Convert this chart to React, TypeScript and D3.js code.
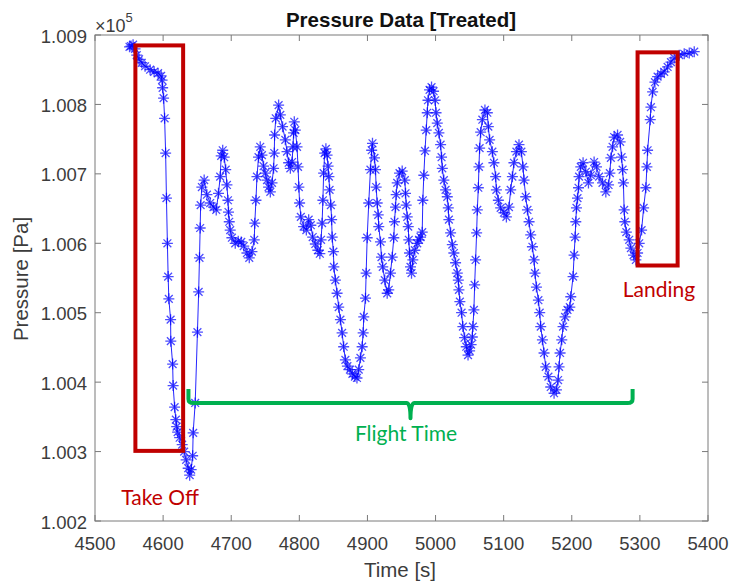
import React from 'react';
import * as d3 from 'd3';

// time [s]
const times = [
  4550.7, 4552.9, 4555.9, 4558.8, 4561.3, 4564.7, 4568.7, 4573.5, 4580.9, 4586.8,
  4592.6, 4597.1, 4598.5, 4599.3, 4600.7, 4602.2, 4603.7, 4604.9, 4606.3, 4607.4,
  4608.4, 4611, 4611.3, 4614, 4614.7, 4616.9, 4618.7, 4619.9, 4621.3, 4624.3,
  4628, 4630.9, 4633.8, 4636.8, 4639, 4641.2, 4643.4, 4644.1, 4647.1, 4650.4,
  4652.2, 4653.4, 4654.4, 4655.1, 4656.9, 4660.3, 4664.3, 4669.1, 4674, 4678,
  4681.3, 4683.8, 4685.3, 4687.5, 4689.7, 4691.9, 4693.7, 4695.2, 4696, 4697.1,
  4698.5, 4701, 4705.9, 4710.3, 4714.7, 4718.4, 4723.1, 4726.5, 4730.4, 4733.8,
  4734.6, 4736.3, 4737.8, 4740.1, 4742.6, 4745.1, 4747.5, 4750, 4752.5, 4754.9,
  4757.4, 4759.9, 4762.2, 4763.2, 4763.7, 4765.4, 4769.6, 4772.1, 4775.4, 4779.4,
  4781.9, 4784.3, 4786.8, 4789.3, 4790.7, 4791.6, 4792.6, 4794.1, 4796.6, 4798.1,
  4799.3, 4800.4, 4802.2, 4806.3, 4810.3, 4813.7, 4816.9, 4819.6, 4823.5, 4827.2,
  4830.1, 4831.9, 4833.4, 4834.6, 4835.7, 4837.2, 4839, 4840.7, 4842.2, 4843.4,
  4844.4, 4846.3, 4847.4, 4848.2, 4850, 4850.7, 4852.9, 4855.4, 4857.8, 4860.3,
  4862.8, 4865.1, 4867.6, 4870.6, 4874.3, 4877.9, 4881.6, 4884.6, 4887.2, 4889.7,
  4892.2, 4893.7, 4894.6, 4897.1, 4898.1, 4899.6, 4901.9, 4904.4, 4906.2, 4907.4,
  4910.3, 4911.8, 4912.8, 4914.3, 4915.8, 4916.6, 4919.1, 4920.6, 4922.5, 4925.4,
  4929, 4931.3, 4933.8, 4936.3, 4938.7, 4939.7, 4941.2, 4942.2, 4943.7, 4947.1,
  4951, 4954.9, 4955.9, 4956.9, 4958.4, 4959.9, 4960.7, 4961.8, 4963.2, 4964.7,
  4966.6, 4969.6, 4973.1, 4975.7, 4978, 4980.4, 4981.3, 4982.8, 4984.5, 4986.3,
  4987.8, 4988.9, 4991.2, 4994.1, 4997.1, 4999.3, 5000.7, 5002.5, 5004.9, 5007.4,
  5008.8, 5009.9, 5012.2, 5014.7, 5017.2, 5018.7, 5019.6, 5022.1, 5024.6, 5026.9,
  5029.4, 5031.9, 5033.4, 5034.3, 5035.7, 5038.2, 5040.1, 5042.6, 5045.1, 5047.7,
  5050, 5052.2, 5053.9, 5054.8, 5056.3, 5057.4, 5058.8, 5060.3, 5061.3, 5062.8,
  5063.7, 5064.7, 5066.2, 5068.7, 5072.5, 5076, 5077.5, 5079.4, 5083.4, 5085.7,
  5088.2, 5089.3, 5092.2, 5095.6, 5100.4, 5104, 5107.8, 5110.3, 5112.8, 5115.1,
  5118.7, 5122.5, 5126, 5128.4, 5129.9, 5132.4, 5134.9, 5137.3, 5139.7, 5142.2,
  5144.6, 5146, 5148.1, 5151, 5152.9, 5154.4, 5156.9, 5159.3, 5161.8, 5165.7,
  5169.1, 5174, 5177.5, 5179.9, 5181.3, 5182.8, 5185.3, 5187.2, 5190.2, 5193.7,
  5197.1, 5198.5, 5201.9, 5203.4, 5204.9, 5205.9, 5206.9, 5208.4, 5209.9, 5210.7,
  5213.2, 5216.6, 5220.6, 5224.5, 5227.9, 5232.8, 5236.3, 5240.1, 5245.1, 5250,
  5254, 5255.9, 5257.4, 5259.9, 5262.2, 5267.2, 5271, 5273.1, 5274.6, 5275.8,
  5276.9, 5277.9, 5280.1, 5284.3, 5286.8, 5290.7, 5294.1, 5296.6, 5299, 5302.5,
  5305.5, 5308.8, 5310.3, 5311.3, 5315.2, 5316.2, 5318.7, 5322.1, 5326, 5330.9,
  5335.7, 5340.7, 5345.6, 5350.4, 5357.8, 5365.1, 5372.5, 5379.8,
];

// pressure [Pa]
const pressures = [
  100883, 100884, 100886, 100880, 100871, 100865, 100860, 100855, 100850, 100847,
  100845, 100841, 100835, 100824, 100809, 100780, 100730, 100665, 100600, 100552,
  100520, 100490, 100459, 100426, 100395, 100364, 100346, 100336, 100328, 100320,
  100310, 100300, 100288, 100276, 100266, 100274, 100294, 100327, 100370, 100472,
  100530, 100579, 100622, 100655, 100681, 100691, 100670, 100658, 100652, 100648,
  100672, 100696, 100726, 100734, 100724, 100706, 100684, 100662, 100645, 100631,
  100619, 100608, 100600, 100603, 100602, 100596, 100586, 100579, 100588, 100605,
  100629, 100662, 100696, 100724, 100739, 100727, 100711, 100701, 100691, 100681,
  100674, 100687, 100708, 100730, 100756, 100780, 100799, 100785, 100768, 100749,
  100732, 100716, 100708, 100717, 100739, 100759, 100775, 100763, 100739, 100710,
  100681, 100658, 100638, 100624, 100619, 100634, 100626, 100609, 100599, 100590,
  100585, 100605, 100629, 100662, 100701, 100730, 100736, 100727, 100711, 100696,
  100677, 100655, 100634, 100609, 100588, 100566, 100547, 100528, 100508, 100490,
  100471, 100451, 100432, 100423, 100418, 100412, 100408, 100406, 100418, 100435,
  100451, 100471, 100494, 100521, 100557, 100608, 100658, 100706, 100734, 100744,
  100723, 100706, 100681, 100658, 100641, 100624, 100602, 100580, 100566, 100547,
  100528, 100533, 100557, 100580, 100608, 100631, 100652, 100670, 100687, 100701,
  100704, 100691, 100672, 100655, 100638, 100624, 100605, 100586, 100566, 100557,
  100576, 100590, 100600, 100605, 100609, 100616, 100662, 100698, 100733, 100763,
  100788, 100806, 100821, 100825, 100819, 100806, 100788, 100773, 100759, 100742,
  100724, 100708, 100691, 100677, 100667, 100651, 100634, 100615, 100598, 100586,
  100572, 100557, 100547, 100533, 100516, 100500, 100480, 100464, 100451, 100439,
  100445, 100454, 100465, 100480, 100504, 100540, 100576, 100615, 100648, 100680,
  100710, 100737, 100760, 100778, 100792, 100788, 100768, 100749, 100732, 100716,
  100696, 100677, 100662, 100651, 100644, 100638, 100652, 100677, 100696, 100716,
  100732, 100742, 100732, 100710, 100691, 100667, 100648, 100631, 100612, 100595,
  100576, 100557, 100537, 100518, 100500, 100480, 100461, 100442, 100422, 100408,
  100393, 100384, 100389, 100403, 100422, 100442, 100461, 100480, 100494, 100504,
  100508, 100523, 100552, 100583, 100609, 100631, 100651, 100665, 100680, 100696,
  100710, 100716, 100703, 100687, 100698, 100717, 100710, 100696, 100687, 100674,
  100684, 100701, 100723, 100739, 100753, 100756, 100746, 100724, 100706, 100687,
  100648, 100631, 100616, 100605, 100593, 100583, 100576, 100586, 100600, 100619,
  100651, 100680, 100710, 100734, 100778, 100796, 100818, 100832, 100840, 100844,
  100847, 100854, 100861, 100867, 100871, 100873, 100874, 100876,
];

const xTicks = [4500, 4600, 4700, 4800, 4900, 5000, 5100, 5200, 5300, 5400];
const yTicks = [100200, 100300, 100400, 100500, 100600, 100700, 100800, 100900];

// annotations, in data units
const takeOffBox = { t0: 4559.3, t1: 4629.4, p0: 100301, p1: 100885 };
const landingBox = { t0: 5296.6, t1: 5355.4, p0: 100568, p1: 100875 };
const flightBracket = { t0: 4637.2, t1: 5289.3, tm: 4963.2, level: 100370, ends: 100390, tip: 100348 };

const W = 730;
const H = 583;
const left = 95, right = 708, top = 35, bottom = 521;
const FONT = '"Liberation Sans", Arial, Helvetica, sans-serif';
const NOTE_FONT = 'Lato, "Open Sans", sans-serif';
const RED = '#C00000';
const GREEN = '#00B050';

const star = 'M-5.5,0H5.5M0,-5.5V5.5M-3.9,-3.9L3.9,3.9M-3.9,3.9L3.9,-3.9';

export default function App() {
  const x = d3.scaleLinear().domain([4500, 5400]).range([left, right]);
  const y = d3.scaleLinear().domain([100200, 100900]).range([bottom, top]);

  const data = times.map((t, i) => ({ t, p: pressures[i] }));
  const line = d3.line<{ t: number; p: number }>().x(d => x(d.t)).y(d => y(d.p));

  const fb = flightBracket;
  const bx0 = x(fb.t0), bx1 = x(fb.t1), bxm = x(fb.tm);
  const by = y(fb.level), bye = y(fb.ends), byt = y(fb.tip);
  const bracket =
    `M${bx0},${bye}V${by - 4}Q${bx0},${by} ${bx0 + 5},${by}` +
    `H${bxm - 4}Q${bxm},${by} ${bxm},${byt}Q${bxm},${by} ${bxm + 4},${by}` +
    `H${bx1 - 5}Q${bx1},${by} ${bx1},${by - 4}V${bye}`;

  const fmt = (v: number) => (v / 1e5).toFixed(3);

  return (
    <svg width={W} height={H} style={{ position: 'absolute', left: 0, top: 0, background: '#fff' }}>
      <rect x={0} y={0} width={W} height={H} fill="#fff" />

      {/* data */}
      <path d={line(data) || ''} fill="none" stroke="#0000ff" strokeWidth={1} strokeOpacity={0.85} />
      <g stroke="#0000ff" strokeWidth={1.3} strokeOpacity={0.7} fill="none">
        {data.map((d, i) => (
          <path key={i} d={star} transform={`translate(${x(d.t)},${y(d.p)})`} />
        ))}
      </g>

      {/* axes box */}
      <g stroke="#7a7a7a" strokeWidth={1} fill="none">
        <rect x={left} y={top} width={right - left} height={bottom - top} />
        {xTicks.map(t => (
          <g key={t}>
            <line x1={x(t)} x2={x(t)} y1={bottom} y2={bottom - 6} />
            <line x1={x(t)} x2={x(t)} y1={top} y2={top + 6} />
          </g>
        ))}
        {yTicks.map(v => (
          <g key={v}>
            <line x1={left} x2={left + 6} y1={y(v)} y2={y(v)} />
            <line x1={right} x2={right - 6} y1={y(v)} y2={y(v)} />
          </g>
        ))}
      </g>

      <g fontFamily={FONT} fontSize={18.5} fill="#3c3c3c">
        {xTicks.map(t => (
          <text key={t} x={x(t)} y={bottom + 29} textAnchor="middle">{t}</text>
        ))}
        {yTicks.map(v => (
          <text key={v} x={left - 8} y={y(v) + 7.5} textAnchor="end">{fmt(v)}</text>
        ))}
        <text x={95} y={32} fontSize={18}>×10<tspan dy={-10} fontSize={13}>5</tspan></text>
      </g>

      <text x={401} y={27} textAnchor="middle" fontFamily={FONT} fontWeight="bold" fontSize={20.5} fill="#111">
        Pressure Data [Treated]
      </text>
      <text x={400} y={577} textAnchor="middle" fontFamily={FONT} fontSize={20.5} fill="#3c3c3c">Time [s]</text>
      <text transform={`translate(28,279) rotate(-90)`} textAnchor="middle" fontFamily={FONT} fontSize={20.5} fill="#3c3c3c">
        Pressure [Pa]
      </text>

      {/* annotations */}
      <g fill="none" stroke={RED} strokeWidth={4}>
        <rect x={x(takeOffBox.t0)} y={y(takeOffBox.p1)} width={x(takeOffBox.t1) - x(takeOffBox.t0)} height={y(takeOffBox.p0) - y(takeOffBox.p1)} />
        <rect x={x(landingBox.t0)} y={y(landingBox.p1)} width={x(landingBox.t1) - x(landingBox.t0)} height={y(landingBox.p0) - y(landingBox.p1)} />
      </g>
      <path d={bracket} fill="none" stroke={GREEN} strokeWidth={4} strokeLinejoin="round" />

      <g fontFamily={NOTE_FONT} fontSize={21} textAnchor="middle">
        <text x={x(4595.6)} y={y(100223)} fill={RED}>Take Off</text>
        <text x={x(5327.9)} y={y(100523)} fill={RED}>Landing</text>
        <text x={x(4956.6)} y={y(100315)} fill={GREEN}>Flight Time</text>
      </g>
    </svg>
  );
}
